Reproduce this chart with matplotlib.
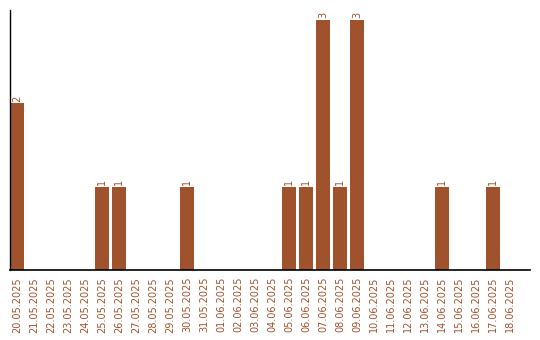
import matplotlib
matplotlib.use("Agg")
import matplotlib.pyplot as plt

dates = ["20.05.2025", "21.05.2025", "22.05.2025", "23.05.2025", "24.05.2025",
         "25.05.2025", "26.05.2025", "27.05.2025", "28.05.2025", "29.05.2025",
         "30.05.2025", "31.05.2025", "01.06.2025", "02.06.2025", "03.06.2025",
         "04.06.2025", "05.06.2025", "06.06.2025", "07.06.2025", "08.06.2025",
         "09.06.2025", "10.06.2025", "11.06.2025", "12.06.2025", "13.06.2025",
         "14.06.2025", "15.06.2025", "16.06.2025", "17.06.2025", "18.06.2025"]
counts = [2, 0, 0, 0, 0, 1, 1, 0, 0, 0, 1, 0, 0, 0, 0, 0, 1, 1, 3, 1, 3,
          0, 0, 0, 0, 1, 0, 0, 1, 0]

color = "#A0522D"
fig = plt.figure(figsize=(5.4, 3.4), dpi=100)
ax = fig.add_axes([10/540, 70/340, 520/540, 260/340])
width = 14/17
x = list(range(len(dates)))
ax.bar(x, counts, width=width, align="edge", color=color)
for xi, v in zip(x, counts):
    if v > 0:
        ax.text(xi + width/2, v + 0.02, str(v), rotation=90, ha="center", va="bottom",
                color=color, fontsize=7)
ax.set_xlim(0, 520/17)
ax.set_ylim(0, 3 * 260/250)
ax.set_xticks([xi + width/2 for xi in x])
ax.set_xticklabels(dates, rotation=90, color=color, fontsize=7)
ax.tick_params(axis="x", length=0, pad=5)
ax.set_yticks([])
for s in ["top", "right"]:
    ax.spines[s].set_visible(False)
ax.spines["left"].set_linewidth(1)
ax.spines["bottom"].set_linewidth(1.2)
fig.savefig("out.png", dpi=100)
